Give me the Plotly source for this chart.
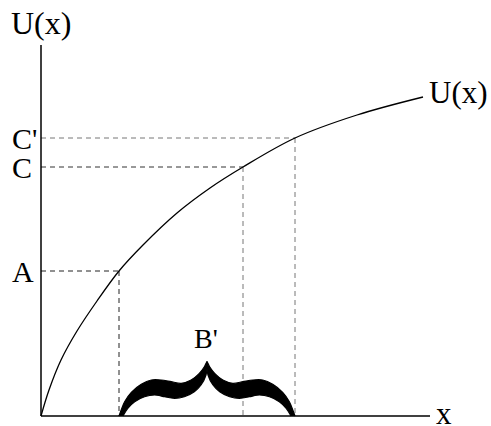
import plotly.graph_objects as go

# ---------------- data (units measured from the origin) ----------------
# utility curve U(x)
curve_x = [0, 8, 20, 36, 56, 78, 102, 136, 169, 202, 254, 316, 382]
curve_y = [0, 26, 56, 85, 115, 145, 171, 203, 228, 249, 278, 301, 319]

# marked points on the curve
point_labels = ["A", "C", "C'"]
point_x = [78, 202, 254]
point_y = [145, 249, 278]

# axis extents
axis_x_end = 389
axis_y_end = 371

# text labels
y_axis_title = "U(x)"
x_axis_title = "x"
curve_label = "U(x)"
brace_label = "B'"

# brace profile: u = fraction of half-width (0 tip -> 1 centre), h = height
brace_top_u = [0.0, 0.064, 0.14, 0.253, 0.367, 0.48, 0.593, 0.706, 0.82, 0.913, 0.97, 1.0]
brace_top_h = [0, 14.3, 23.7, 31.7, 36, 36, 34.3, 32.7, 36, 42.7, 49.3, 54.3]
brace_bot_u = [0.045, 0.10, 0.178, 0.29, 0.404, 0.517, 0.63, 0.743, 0.856, 0.932, 0.989, 1.0]
brace_bot_h = [0, 7.7, 14.3, 19.3, 21, 19.3, 17.7, 19.3, 24.3, 31, 41, 47.7]

# ---------------- figure ----------------
FONT = "Liberation Serif, Times New Roman, serif"
fig = go.Figure()

# dashed guide lines
h_colors = ["#222222", "#333333", "#777777"]
v_colors = ["#222222", "#777777", "#777777"]
for px_, py_, hc, vc in zip(point_x, point_y, h_colors, v_colors):
    fig.add_trace(go.Scatter(x=[0, px_], y=[py_, py_], mode="lines",
                             line=dict(color=hc, width=1, dash="5px,4px"),
                             hoverinfo="skip"))
    fig.add_trace(go.Scatter(x=[px_, px_], y=[py_, 0], mode="lines",
                             line=dict(color=vc, width=1, dash="5px,4px"),
                             hoverinfo="skip"))

# axes
fig.add_trace(go.Scatter(x=[0, 0], y=[0, axis_y_end], mode="lines",
                         line=dict(color="black", width=1.5), hoverinfo="skip"))
fig.add_trace(go.Scatter(x=[0, axis_x_end], y=[0, 0], mode="lines",
                         line=dict(color="black", width=1.5), hoverinfo="skip"))

# utility curve
fig.add_trace(go.Scatter(x=curve_x, y=curve_y, mode="lines",
                         line=dict(color="black", width=1.3, shape="spline", smoothing=1.0),
                         hoverinfo="skip"))

# brace spanning from A to C'
b_start, b_end = point_x[0], point_x[2]
half = (b_end - b_start) / 2.0
for side in (1, -1):
    base = b_start if side == 1 else b_end
    xs = [base + side * u * half for u in brace_top_u] + \
         [base + side * u * half for u in reversed(brace_bot_u)]
    ys = list(brace_top_h) + list(reversed(brace_bot_h))
    fig.add_trace(go.Scatter(x=xs, y=ys, mode="lines", fill="toself",
                             fillcolor="black",
                             line=dict(color="black", width=1.2, shape="spline", smoothing=0.8),
                             hoverinfo="skip"))

annotations = []
for lab, py_ in zip(point_labels, point_y):
    annotations.append(dict(x=-31.5, y=py_, text=lab, xanchor="left", yanchor="middle",
                            showarrow=False, font=dict(family=FONT, size=30, color="black")))
annotations.append(dict(x=-32, y=393, text=y_axis_title, xanchor="left", yanchor="middle",
                        showarrow=False, font=dict(family=FONT, size=32, color="black")))
annotations.append(dict(x=curve_x[-1] + 4, y=curve_y[-1] + 5, text=curve_label,
                        xanchor="left", yanchor="middle",
                        showarrow=False, font=dict(family=FONT, size=31, color="black")))
annotations.append(dict(x=axis_x_end + 4, y=3, text=x_axis_title, xanchor="left",
                        yanchor="middle", showarrow=False,
                        font=dict(family=FONT, size=31, color="black")))
annotations.append(dict(x=(b_start + b_end) / 2.0 - 1, y=78, text=brace_label, xanchor="center",
                        yanchor="middle", showarrow=False,
                        font=dict(family=FONT, size=28, color="black")))

fig.update_layout(
    width=491, height=426,
    margin=dict(l=0, r=0, t=0, b=0),
    paper_bgcolor="white", plot_bgcolor="white",
    showlegend=False,
    xaxis=dict(range=[-41, 450], visible=False, fixedrange=True),
    yaxis=dict(range=[-10, 416], visible=False, fixedrange=True),
    annotations=annotations,
)

# remove the default 8px page margin so the figure fills the window exactly
fig.write_html("out.html", config={"displayModeBar": False},
               post_script="document.body.style.margin='0';document.body.style.overflow='hidden';")
